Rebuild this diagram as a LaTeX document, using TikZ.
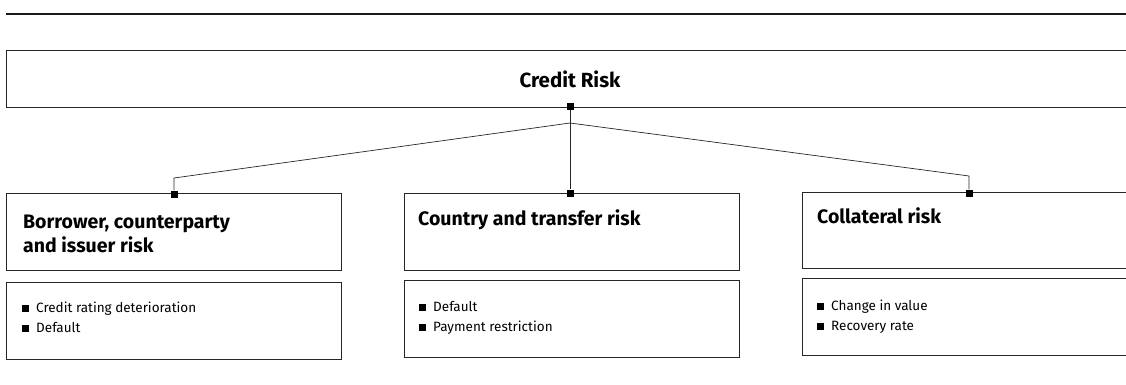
\documentclass[tikz,border=0pt]{standalone}
\usepackage{fontspec}
\setmainfont{Fira Sans}
\begin{document}
\begin{tikzpicture}[x=1pt,y=-1pt,
  line/.style={draw=black!85,line width=0.9pt},
  sq/.style={fill=black,draw=none,minimum size=7pt,inner sep=0pt},
  ttl/.style={font=\bfseries\fontsize{19.5}{24}\selectfont,anchor=base west,inner sep=0pt,align=left},
  bul/.style={font=\fontsize{13.5}{20}\selectfont,anchor=base west,inner sep=0pt,align=left},
  box/.style={line,minimum width=335pt,minimum height=77pt,inner sep=0pt,anchor=north west}]
\useasboundingbox (0,0) rectangle (1126,384);
% top rule
\draw[line width=1.3pt,black!90] (6,14) -- (1126,14);
% Credit Risk box (open at right)
\draw[line] (1126,50) -- (6,50) -- (6,107) -- (1126,107);
\node[font=\bfseries\fontsize{20.5}{24}\selectfont,anchor=base,inner sep=0pt] (cr) at (570,87) {Credit Risk};
\node[sq] (s0) at (570,106) {};
% boxes
\node[box] (b1) at (6,193) {};
\node[box] (b2) at (404,193) {};
\draw[line] (1126,192) -- (802,192) -- (802,268) -- (1126,268);
\coordinate (b3) at (802,192);
\node[box] (c1) at (6,282) {};
\node[box] (c2) at (404,280) {};
\draw[line] (1126,278) -- (802,278) -- (802,355) -- (1126,355);
% squares
\node[sq] (s1) at (174,194) {};
\node[sq] (s2) at (570,193) {};
\node[sq] (s3) at (969,193) {};
% connectors
\coordinate (j) at (570,123);
\coordinate (k1) at (174,178);
\coordinate (k3) at (969,176);
\draw[line,line width=0.7pt] (s0) -- (s2);
\draw[line,line width=0.7pt] (j) -- (k1) -- (s1);
\draw[line,line width=0.7pt] (j) -- (k3) -- (s3);
% titles (anchor = baseline of last line)
\node[ttl] (t1) at (23,252) {Borrower, counterparty\\and issuer risk};
\node[ttl] (t2) at (418,225) {Country and transfer risk};
\node[ttl] (t3) at (817,223) {Collateral risk};
% bullets (anchor = baseline of last line)
\newcommand{\bx}{\rule[0.5pt]{7pt}{7pt}\hspace{7pt}}
\node[bul] (u1) at (22,332) {\bx Credit rating deterioration\\\bx Default};
\node[bul] (u2) at (419,331) {\bx Default\\\bx Payment restriction};
\node[bul] (u3) at (817,330) {\bx Change in value\\\bx Recovery rate};
\end{tikzpicture}
\end{document}
